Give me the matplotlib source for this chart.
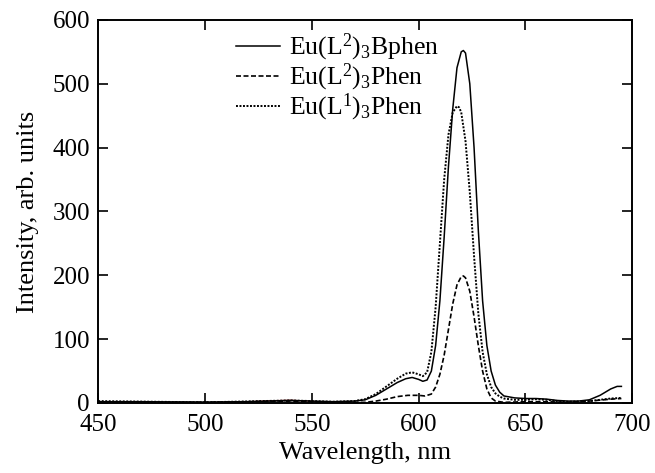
import matplotlib
matplotlib.use("Agg")
import matplotlib.pyplot as plt

plt.rcParams['font.family'] = ['Liberation Serif', 'DejaVu Serif']
plt.rcParams['mathtext.fontset'] = 'custom'
plt.rcParams['mathtext.rm'] = 'Liberation Serif'
plt.rcParams['mathtext.it'] = 'Liberation Serif:italic'

# Eu(L2)3Bphen (solid)
wl_a = [450, 470, 500, 520, 530, 540, 550, 560, 570, 575, 580, 585, 590, 594, 597, 600, 602, 604,
        606, 608, 610, 612, 614, 616, 618, 620, 621, 622, 624, 626, 628, 630, 632, 634, 636, 638,
        640, 645, 650, 655, 660, 665, 670, 675, 680, 685, 690, 693, 695]
int_a = [2, 2, 1.5, 2, 3, 4, 3, 2, 3, 5, 12, 22, 32, 38, 40, 37, 34, 36,
         50, 90, 160, 260, 370, 460, 525, 550, 552, 548, 500, 400, 270, 160, 90, 50, 28, 17,
         11, 8, 7, 7, 6, 4, 3, 3, 5, 12, 22, 26, 26]

# Eu(L2)3Phen (dashed)
wl_b = [450, 500, 540, 560, 575, 580, 585, 590, 595, 600, 603, 606, 608, 610, 612, 614, 616, 618,
        620, 621, 622, 624, 626, 628, 630, 632, 634, 636, 640, 650, 660, 670, 680, 690, 695]
int_b = [1, 1, 3, 1, 1, 3, 6, 10, 12, 12, 11, 14, 25, 45, 75, 115, 155, 185,
         198, 199, 196, 175, 135, 90, 50, 22, 8, 3, 1, 2, 2, 1, 3, 6, 7]

# Eu(L1)3Phen (dotted)
wl_c = [450, 500, 540, 560, 570, 575, 580, 585, 590, 594, 597, 600, 602, 604, 606, 608, 610, 612,
        614, 616, 618, 619, 620, 622, 624, 626, 628, 630, 632, 634, 636, 638, 640, 645, 650, 655,
        660, 665, 670, 680, 685, 690, 695]
int_c = [3, 1, 4, 2, 3, 6, 14, 26, 38, 46, 48, 45, 42, 48, 80, 150, 250, 350,
         420, 455, 465, 463, 455, 410, 330, 230, 140, 80, 45, 25, 15, 10, 7, 5, 5, 6,
         5, 3, 2, 3, 5, 7, 8]

# faint red trace
wl_r = [505, 520, 530, 540, 548, 555]
int_r = [1, 2, 3.5, 4.5, 3, 1.5]

labels = [r'Eu(L$^{\mathrm{2}}$)$_{\mathrm{3}}$Bphen',
          r'Eu(L$^{\mathrm{2}}$)$_{\mathrm{3}}$Phen',
          r'Eu(L$^{\mathrm{1}}$)$_{\mathrm{3}}$Phen']

fig = plt.figure(figsize=(6.55, 4.73), dpi=100)
ax = fig.add_axes([0.150, 0.148, 0.815, 0.810])

ax.plot(wl_r, int_r, color='#c04848', lw=0.8)
ax.plot(wl_a, int_a, color='black', lw=1.1, ls='-', label=labels[0])
ax.plot(wl_b, int_b, color='black', lw=1.2, ls=(0, (3, 1.5)), label=labels[1])
ax.plot(wl_c, int_c, color='black', lw=1.4, ls=(0, (1, 0.8)), label=labels[2])

ax.set_xlim(450, 700)
ax.set_ylim(0, 600)
ax.set_xticks([450, 500, 550, 600, 650, 700])
ax.set_yticks([0, 100, 200, 300, 400, 500, 600])
ax.tick_params(direction='in', top=True, right=True, length=7, width=1.2, labelsize=18)
ax.tick_params(axis='x', pad=8)
ax.tick_params(axis='y', pad=6)
for s in ax.spines.values():
    s.set_linewidth(1.4)

ax.set_xlabel('Wavelength, nm', fontsize=19, labelpad=4)
ax.set_ylabel('Intensity, arb. units', fontsize=19, labelpad=10)

leg = ax.legend(loc='upper left', bbox_to_anchor=(0.333, 0.971), bbox_transform=fig.transFigure,
                frameon=False, fontsize=18.5, handlelength=1.7, handletextpad=0.35,
                labelspacing=-0.05, borderpad=0.2)

fig.savefig('out.png', dpi=100)
